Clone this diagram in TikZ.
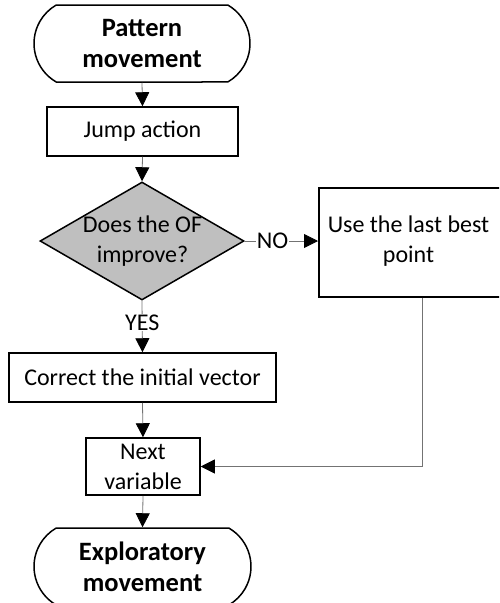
\documentclass[tikz,border=0pt]{standalone}
\usepackage{fontspec}
\setmainfont{Carlito}
\usetikzlibrary{arrows.meta,shapes.misc,shapes.geometric}
\begin{document}
\begin{tikzpicture}[x=1pt,y=-1pt,
  font=\fontsize{24}{30}\selectfont,
  txt/.style={align=center,inner sep=0pt},
  box/.style={draw=black,line width=1.5pt,fill=white,inner sep=0pt,align=center},
  term/.style={box,rounded rectangle,rounded rectangle arc length=120,
    font=\fontsize{26.5}{31}\selectfont\bfseries},
  decision/.style={box,diamond,fill=black!25},
  flow/.style={draw=black!55,line width=0.8pt,-{Triangle[width=14pt,length=14pt,color=black]}},
  lbl/.style={fill=white,inner sep=1pt}]
\useasboundingbox (0,0) rectangle (499,603);
\clip (0,0) rectangle (499,603);

% process nodes
\node[term,minimum width=216pt,minimum height=77pt] (start) at (142,43.5) {Pattern\\movement};
\node[box,minimum width=191pt,minimum height=49pt] (jump) at (142.5,131.5) {Jump action};
\node[decision,minimum width=204pt,minimum height=118pt,aspect=1.73] (check) at (142,241) {};
\node[txt] (checktext) at (142.5,241) {Does the OF\\improve?};
\node[box,minimum width=204pt,minimum height=109pt,anchor=north west] (best) at (318,187) {};
\node[txt] (besttext) at (408.5,241) {Use the last best\\point};
\node[box,minimum width=267pt,minimum height=49pt] (correct) at (142.5,377.5) {Correct the initial vector};
\node[box,minimum width=114pt,minimum height=57pt] (next) at (143,466.5) {Next\\variable};
\node[term,minimum width=217pt,minimum height=77pt] (stop) at (142.5,566.5) {Exploratory\\movement};
\coordinate (bend) at (422,466.5);

% connectors
\draw[flow] (check.east) -- (best.west |- check.east)
  node[lbl,pos=0.38] {NO};
\draw[flow] (start.south) -- (jump.north);
\draw[flow] (jump.south) -- (check.north);
\draw[flow] (check.south) -- (correct.north)
  node[lbl,pos=0.42] {YES};
\draw[flow] (correct.south) -- (next.north);
\draw[flow] (best.south -| bend) -- (bend) -- (next.east);
\draw[flow] (next.south) -- (stop.north);
\end{tikzpicture}
\end{document}
